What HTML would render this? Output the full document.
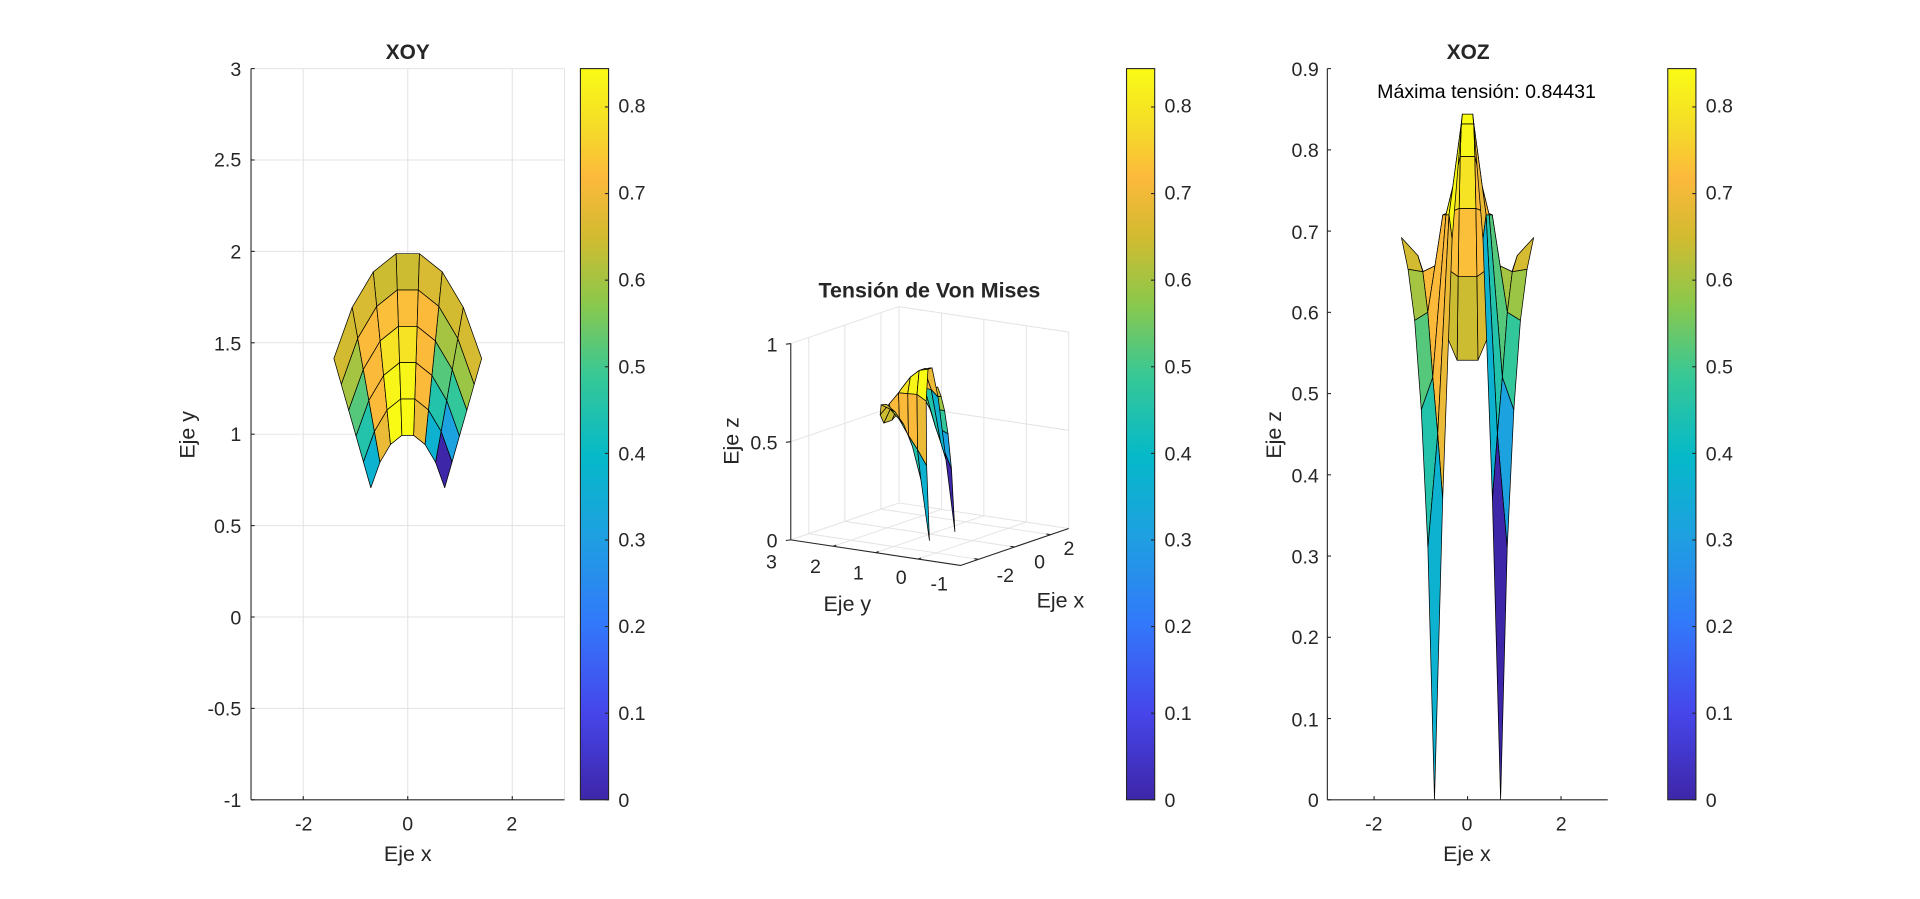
<!DOCTYPE html>
<html><head><meta charset="utf-8"><style>
html,body{margin:0;padding:0;background:#fff;}
svg{display:block;}
text{font-family:"Liberation Sans",Arial,sans-serif;fill:#262626;}
</style></head><body>
<svg id="s" width="1920" height="899" viewBox="0 0 1568 734" preserveAspectRatio="none" xmlns="http://www.w3.org/2000/svg">
<defs>
<linearGradient id="par" x1="0" y1="1" x2="0" y2="0">
<stop offset="0" stop-color="rgb(62,38,168)"/>
<stop offset="0.12" stop-color="rgb(70,70,235)"/>
<stop offset="0.24" stop-color="rgb(50,120,250)"/>
<stop offset="0.36" stop-color="rgb(30,160,225)"/>
<stop offset="0.47" stop-color="rgb(5,185,200)"/>
<stop offset="0.58" stop-color="rgb(55,200,150)"/>
<stop offset="0.68" stop-color="rgb(140,200,75)"/>
<stop offset="0.77" stop-color="rgb(210,187,48)"/>
<stop offset="0.85" stop-color="rgb(252,185,60)"/>
<stop offset="0.92" stop-color="rgb(245,220,40)"/>
<stop offset="1" stop-color="rgb(249,251,21)"/>
</linearGradient>
</defs>
<rect width="1568" height="734" fill="#fff"/>
<g id="grid1" stroke="#e3e3e3" stroke-width="0.8"></g>
<g id="grid2" stroke="#e3e3e3" stroke-width="0.8"></g>
<g id="surf1"></g><g id="surf2"></g><g id="surf3"></g>
<g id="axes" stroke="#262626" stroke-width="0.9" fill="none"></g>

<!-- Plot 1 text -->
<text x="333" y="48" font-size="17" font-weight="bold" text-anchor="middle">XOY</text>
<g font-size="16" text-anchor="end">
<text x="197" y="62">3</text><text x="197" y="136">2.5</text><text x="197" y="211">2</text>
<text x="197" y="286">1.5</text><text x="197" y="360">1</text><text x="197" y="435">0.5</text>
<text x="197" y="510">0</text><text x="197" y="584">-0.5</text><text x="197" y="659">-1</text>
</g>
<g font-size="16" text-anchor="middle">
<text x="248" y="678">-2</text><text x="333" y="678">0</text><text x="418" y="678">2</text>
</g>
<text x="333" y="703" font-size="17.5" text-anchor="middle">Eje x</text>
<text transform="translate(159,355) rotate(-90)" font-size="17.5" text-anchor="middle">Eje y</text>

<!-- Plot 2 text -->
<text x="759" y="243" font-size="17.5" font-weight="bold" text-anchor="middle">Tensión de Von Mises</text>
<g font-size="16" text-anchor="end">
<text x="635" y="287">1</text><text x="635" y="367">0.5</text><text x="635" y="447">0</text>
</g>
<g font-size="16" text-anchor="middle">
<text x="630" y="464">3</text><text x="666" y="468">2</text><text x="701" y="473">1</text>
<text x="736" y="477">0</text><text x="767" y="482">-1</text>
<text x="821" y="475">-2</text><text x="849" y="464">0</text><text x="873" y="453">2</text>
</g>
<text x="692" y="499" font-size="17.5" text-anchor="middle">Eje y</text>
<text x="866" y="496" font-size="17.5" text-anchor="middle">Eje x</text>
<text transform="translate(603,360) rotate(-90)" font-size="17.5" text-anchor="middle">Eje z</text>

<!-- Plot 3 text -->
<text x="1199" y="48" font-size="17" font-weight="bold" text-anchor="middle">XOZ</text>
<text x="1214" y="80" font-size="16" text-anchor="middle" style="fill:#000">Máxima tensión: 0.84431</text>
<g font-size="16" text-anchor="middle">
<text x="1122" y="678">-2</text><text x="1198" y="678">0</text><text x="1275" y="678">2</text>
</g>
<text x="1198" y="703" font-size="17.5" text-anchor="middle">Eje x</text>
<text transform="translate(1046,355) rotate(-90)" font-size="17.5" text-anchor="middle">Eje z</text>

<!-- colorbars -->
<rect x="474" y="56" width="23" height="597" fill="url(#par)" stroke="#262626" stroke-width="0.9"/>
<rect x="920" y="56" width="23" height="597" fill="url(#par)" stroke="#262626" stroke-width="0.9"/>
<rect x="1362" y="56" width="23" height="597" fill="url(#par)" stroke="#262626" stroke-width="0.9"/>
<g id="cbt" stroke="#262626" stroke-width="0.9"></g>
<g font-size="16">
<text x="505" y="659">0</text><text x="505" y="588">0.1</text><text x="505" y="517">0.2</text><text x="505" y="446">0.3</text><text x="505" y="376">0.4</text><text x="505" y="305">0.5</text><text x="505" y="234">0.6</text><text x="505" y="163">0.7</text><text x="505" y="92">0.8</text>
<text x="951" y="659">0</text><text x="951" y="588">0.1</text><text x="951" y="517">0.2</text><text x="951" y="446">0.3</text><text x="951" y="376">0.4</text><text x="951" y="305">0.5</text><text x="951" y="234">0.6</text><text x="951" y="163">0.7</text><text x="951" y="92">0.8</text>
<text x="1393" y="659">0</text><text x="1393" y="588">0.1</text><text x="1393" y="517">0.2</text><text x="1393" y="446">0.3</text><text x="1393" y="376">0.4</text><text x="1393" y="305">0.5</text><text x="1393" y="234">0.6</text><text x="1393" y="163">0.7</text><text x="1393" y="92">0.8</text>
</g>
<g font-size="16" text-anchor="end">
<text x="1077" y="659">0</text><text x="1077" y="593">0.1</text><text x="1077" y="526">0.2</text><text x="1077" y="460">0.3</text><text x="1077" y="394">0.4</text><text x="1077" y="327">0.5</text><text x="1077" y="261">0.6</text><text x="1077" y="195">0.7</text><text x="1077" y="128">0.8</text><text x="1077" y="62">0.9</text>
</g>
</svg>
<script>
(function(){
var NS="http://www.w3.org/2000/svg";
function el(p,tag,at){var e=document.createElementNS(NS,tag);for(var k in at)e.setAttribute(k,at[k]);document.getElementById(p).appendChild(e);return e;}
function line(p,x1,y1,x2,y2){el(p,"line",{x1:x1,y1:y1,x2:x2,y2:y2});}
var stops=[[0,62,38,168],[.12,70,70,235],[.24,50,120,250],[.36,30,160,225],[.47,5,185,200],[.58,55,200,150],[.68,140,200,75],[.77,210,187,48],[.85,252,185,60],[.92,245,220,40],[1,249,251,21]];
function col(v){var t=Math.max(0,Math.min(1,v/0.84431));for(var i=1;i<stops.length;i++){if(t<=stops[i][0]){var a=stops[i-1],b=stops[i],f=(t-a[0])/(b[0]-a[0]);return "rgb("+[1,2,3].map(function(k){return Math.round(a[k]+(b[k]-a[k])*f)}).join(",")+")";}}return "rgb(249,251,21)";}
var T45=[0,0.31,0.48,0.59,0.653,0.692],T58=[0.37,0.45,0.52,0.60,0.65,0.67],T71=[0.69,0.72,0.72,0.72,0.66,0.60],T84=[0.844,0.832,0.792,0.728,0.644,0.541];
var Z=[T45,T58,T71,T84,T84,T71,T58,T45];
var N=[];for(var j=0;j<8;j++){N[j]=[];var th=(45+j*90/7)*Math.PI/180;for(var i=0;i<6;i++){var r=1+i*0.2;N[j][i]=[r*Math.cos(th),r*Math.sin(th),Z[j][i]];}}
var faces=[];for(var j=0;j<7;j++)for(var i=0;i<5;i++){faces.push({p:[N[j][i],N[j+1][i],N[j+1][i+1],N[j][i+1]],c:col(Z[j][i])});}
function draw(g,proj,depth){var fs=faces.slice();fs.sort(function(a,b){return depth(b)-depth(a);});
fs.forEach(function(f){var pts=f.p.map(function(q){var s=proj(q);return s[0].toFixed(2)+","+s[1].toFixed(2);}).join(" ");el(g,"polygon",{points:pts,fill:f.c,stroke:"#000","stroke-width":"0.6","stroke-linejoin":"round"});});}
function cen(f,k){return (f.p[0][k]+f.p[1][k]+f.p[2][k]+f.p[3][k])/4;}
var X1=function(x){return 333+x*42.67},Y1=function(y){return 653-(y+1)*149.25};
[-2,0,2].forEach(function(x){line("grid1",X1(x),56,X1(x),653);});
for(var y=-0.5;y<=3.01;y+=0.5)line("grid1",205,Y1(y),461,Y1(y));
line("grid1",461,56,461,653);
draw("surf1",function(q){return [X1(q[0]),Y1(q[1])]},function(f){return -cen(f,2)});
line("axes",205,56,205,653);line("axes",205,653,461,653);
[-2,0,2].forEach(function(x){line("axes",X1(x),653,X1(x),650);});
for(var y=-1;y<=3.01;y+=0.5)line("axes",205,Y1(y),208,Y1(y));
var A=[645.8,440.8];
function P(x,y,z){return [A[0]+(x+3)*14.73+(3-y)*34.65, A[1]-(x+3)*5.03+(3-y)*5.22-z*160.3];}
function L2(a,b){line("grid2",a[0],a[1],b[0],b[1]);}
[-2,0,2].forEach(function(x){L2(P(x,3,0),P(x,3,1));L2(P(x,3,0),P(x,-1,0));});
[2,1,0].forEach(function(y){L2(P(3,y,0),P(3,y,1));L2(P(3,y,0),P(-3,y,0));});
[0.5,1].forEach(function(z){L2(P(-3,3,z),P(3,3,z));L2(P(3,3,z),P(3,-1,z));});
L2(P(3,3,0),P(3,3,1));L2(P(3,-1,0),P(3,-1,1));L2(P(-3,3,0),P(3,3,0));L2(P(3,3,0),P(3,-1,0));
draw("surf2",function(q){return P(q[0],q[1],q[2])},function(f){return 5.03*cen(f,0)+5.22*cen(f,1)});
var a0=P(-3,3,0),a1=P(-3,3,1),b0=P(-3,-1,0),c0=P(3,-1,0);
line("axes",a0[0],a0[1],a1[0],a1[1]);line("axes",a0[0],a0[1],b0[0],b0[1]);line("axes",b0[0],b0[1],c0[0],c0[1]);
[0,0.5,1].forEach(function(z){var p=P(-3,3,z);line("axes",p[0],p[1],p[0]-4,p[1]+0.5);});
[2,1,0].forEach(function(y){var p=P(-3,y,0);line("axes",p[0],p[1],p[0]+2.5,p[1]-0.9);});
[-2,0,2].forEach(function(x){var p=P(x,-1,0);line("axes",p[0],p[1],p[0]-3.5,p[1]-0.5);});
var X3=function(x){return 1198.5+x*38.17},Y3=function(z){return 653-z*663.3};
draw("surf3",function(q){return [X3(q[0]),Y3(q[2])]},function(f){return cen(f,1)});
line("axes",1084,56,1084,653);line("axes",1084,653,1313,653);
[-2,0,2].forEach(function(x){line("axes",X3(x),653,X3(x),650);});
for(var z=0;z<=0.901;z+=0.1)line("axes",1084,Y3(z),1087,Y3(z));
[474,920,1362].forEach(function(x0){for(var v=0;v<=0.801;v+=0.1){var y=653-v/0.84431*597;line("cbt",x0+23,y,x0+20,y);}});
})();
</script>
</body></html>
